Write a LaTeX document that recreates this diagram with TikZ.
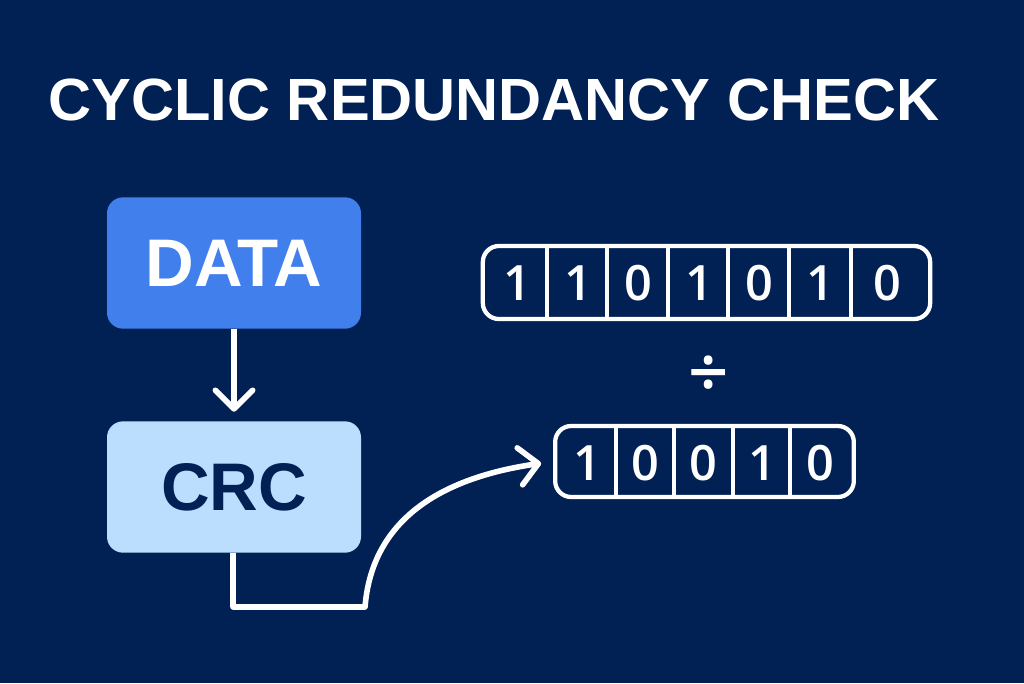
\documentclass[tikz,border=0pt]{standalone}
\usepackage{fontspec}
\setmainfont{Liberation Sans}
\newfontfamily\digitfont{Open Sans Semibold}
\usetikzlibrary{arrows.meta}
\definecolor{bgnavy}{HTML}{012154}
\definecolor{datablue}{HTML}{4180EC}
\definecolor{crcblue}{HTML}{BBDDFE}
\tikzset{
  x=0.75pt,y=-0.75pt,
  flowbox/.style={rounded corners=12pt,minimum width=190.5pt,minimum height=98.5pt,inner sep=0pt,font=\fontsize{50.5}{51}\selectfont\bfseries},
  reg/.style={draw=white,line width=3.2pt,rounded corners=12pt,inner sep=0pt,fill=none},
  cell/.style={text=white,font=\digitfont\fontsize{36.5}{37}\selectfont,inner sep=0pt,anchor=center},
  divline/.style={draw=white,line width=3.2pt},
  flow/.style={draw=white,line width=4.2pt,line join=round},
  flowtip/.style={-{Straight Barb[length=14pt,width=28pt,round]}},
}
\begin{document}
\begin{tikzpicture}
\useasboundingbox (0,0) rectangle (1024,683);
\fill[bgnavy] (0,0) rectangle (1024,683);
\node[text=white,font=\fontsize{44.7}{46}\selectfont\bfseries,anchor=center] (title) at (494,100) {CYCLIC REDUNDANCY CHECK};
\node[flowbox,fill=datablue,text=white] (data) at (234,263) {DATA};
\node[flowbox,fill=crcblue,text=bgnavy] (crc) at (234,487) {CRC};
\draw[flow,flowtip,shorten >=7pt] (data.south) -- (crc.north);
% first register
\node[reg,minimum width=335.5pt,minimum height=54.75pt] (rega) at (706.5,282.5) {};
\foreach \x in {547,607,668,728,789,851}{
  \draw[divline] (\x,244) -- (\x,321);
}
\node[cell] (a1) at (517,283) {1};
\node[cell] (a2) at (578,283) {1};
\node[cell] (a3) at (638,283) {0};
\node[cell] (a4) at (699,283) {1};
\node[cell] (a5) at (759,283) {0};
\node[cell] (a6) at (820,283) {1};
\node[cell] (a7) at (887,283) {0};
\node[text=white,font=\digitfont\fontsize{53}{53}\selectfont] (div) at (708.5,377) {÷};
% second register
\node[reg,minimum width=224pt,minimum height=53.25pt] (regb) at (704.5,461.5) {};
\foreach \x in {616,674,733,790}{
  \draw[divline] (\x,424) -- (\x,499);
}
\node[cell] (b1) at (587,463) {1};
\node[cell] (b2) at (645,463) {0};
\node[cell] (b3) at (703,463) {0};
\node[cell] (b4) at (762,463) {1};
\node[cell] (b5) at (820,463) {0};
\coordinate (bend1) at (233,607);
\coordinate (bend2) at (365,607);
\draw[flow,flowtip,shorten >=9pt] (crc.south -| bend1) -- (bend1) -- (bend2) .. controls (372,520) and (440,478) .. (regb.west);
\end{tikzpicture}
\end{document}
